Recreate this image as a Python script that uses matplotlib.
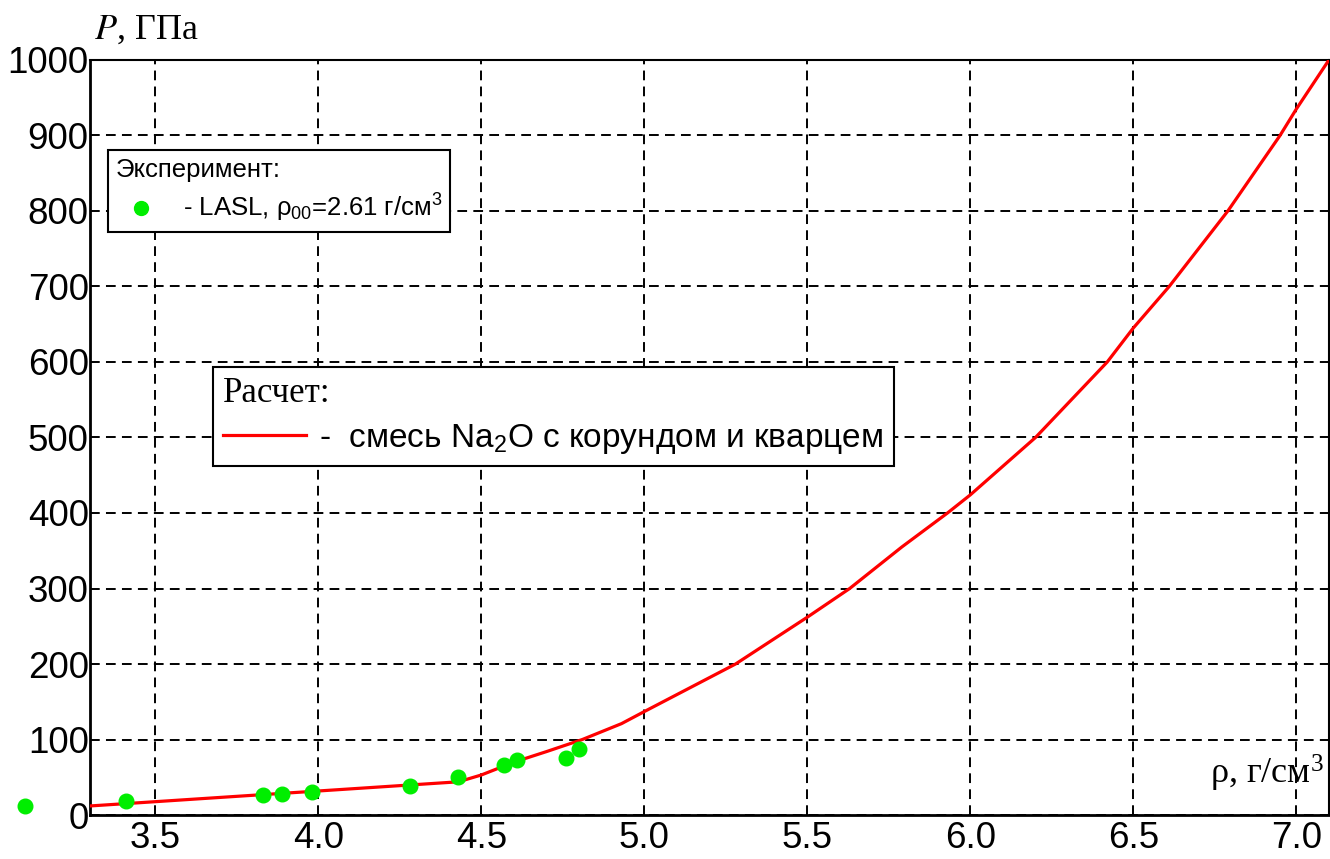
import numpy as np
import matplotlib
matplotlib.use("Agg")
import matplotlib.pyplot as plt
from matplotlib.lines import Line2D

# данные эксперимента LASL (rho00 = 2.61 г/см3)
rho_exp = [3.10, 3.41, 3.83, 3.89, 3.98, 4.28, 4.43, 4.57, 4.61, 4.76, 4.80]
p_exp = [12, 18, 26, 28, 30, 39, 51, 66, 73, 76, 87]

# расчет: смесь Na2O с корундом и кварцем
rho_calc = [3.30, 4.43, 4.50, 4.60, 4.70, 4.81, 4.93, 5.00, 5.28, 5.50, 5.63,
            5.79, 5.93, 6.00, 6.20, 6.42, 6.50, 6.61, 6.79, 6.95, 7.00, 7.10]
p_calc = [12, 44, 53, 70, 84, 100, 121, 137, 200, 262, 300,
          355, 400, 424, 500, 600, 645, 700, 800, 900, 935, 1000]

x_ticks = [3.5, 4.0, 4.5, 5.0, 5.5, 6.0, 6.5, 7.0]
y_ticks = [0, 100, 200, 300, 400, 500, 600, 700, 800, 900, 1000]

SANS = ['Liberation Sans', 'DejaVu Sans']
SERIF = ['Liberation Serif', 'DejaVu Serif']

plt.rcParams['font.family'] = SANS
plt.rcParams['mathtext.fontset'] = 'stix'
plt.rcParams['mathtext.default'] = 'regular'
plt.rcParams['lines.scale_dashes'] = False

fig = plt.figure(figsize=(13.3, 8.59), dpi=100)
ax = fig.add_axes([0.0677, 0.0512, 0.9315, 0.8790])

ax.plot(rho_calc, p_calc, color='#ff0000', lw=2.3, zorder=3)
ax.plot(rho_exp, p_exp, ls='none', marker='o', ms=10.5, color='#00ee00',
        mec='#00ee00', zorder=4, clip_on=False)

ax.set_xlim(3.3, 7.1)
ax.set_ylim(0, 1000)
ax.set_xticks(x_ticks)
ax.set_xticklabels(["{:.1f}".format(v) for v in x_ticks])
ax.set_yticks(y_ticks)
ax.tick_params(axis='both', labelsize=26.5, length=0)
ax.tick_params(axis='y', pad=1)
ax.tick_params(axis='x', pad=4)
ax.grid(True, color='black', lw=1.4, linestyle=(0, (7, 4.5)))
for side in ['left', 'bottom']:
    ax.spines[side].set_linewidth(2.0)
for side in ['top', 'right']:
    ax.spines[side].set_linewidth(1.5)

# подписи осей
fig.text(0.071, 0.955, r"$\mathit{P}$, ГПа", fontsize=26, family=SERIF,
         ha='left', va='baseline')
ax.text(0.996, 0.028, "ρ, г/см$^3$", fontsize=26, family=SERIF,
        transform=ax.transAxes, ha='right', va='bottom')

# легенда: эксперимент
h1 = Line2D([], [], ls='none', marker='o', ms=10, color='#00ee00')
leg1 = fig.legend([h1], ["- LASL, ρ$_{00}$=2.61 г/см$^3$"],
                  title="Эксперимент:", loc='upper left',
                  bbox_to_anchor=(0.0812, 0.8254), borderaxespad=0,
                  fontsize=18.5, title_fontsize=18.5, alignment='left',
                  frameon=True, fancybox=False, edgecolor='black',
                  framealpha=1, handlelength=2.0, handletextpad=0.6,
                  borderpad=0.3, labelspacing=0.4)
leg1.get_frame().set_linewidth(1.5)

# легенда: расчет
h2 = Line2D([], [], color='#ff0000', lw=2.3)
leg2 = fig.legend([h2], ["-  смесь Na$_2$O с корундом и кварцем"],
                  title="Расчет:", loc='upper left',
                  bbox_to_anchor=(0.160, 0.5728), borderaxespad=0,
                  fontsize=24, alignment='left',
                  title_fontproperties={'family': SERIF, 'size': 25},
                  frameon=True, fancybox=False, edgecolor='black',
                  framealpha=1, handlelength=2.5, handletextpad=0.4,
                  borderpad=0.3, labelspacing=0.35)
leg2.get_frame().set_linewidth(1.5)

plt.savefig("out.png", dpi=100)
